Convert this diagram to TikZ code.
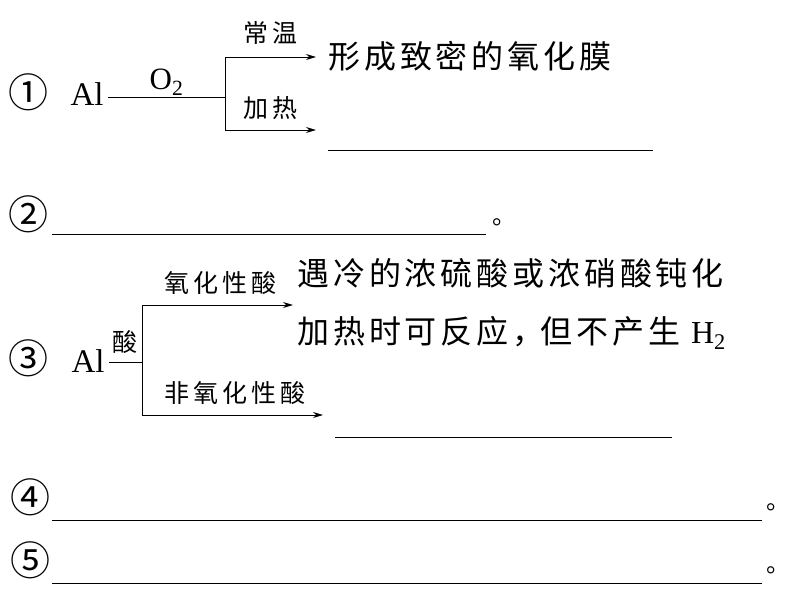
\documentclass[tikz,border=0pt]{standalone}
\usepackage{fontspec}
\setmainfont{Liberation Serif}
\newfontfamily\cjk[LetterSpace=12]{Noto Sans CJK SC}
\newfontfamily\cjksmall[LetterSpace=16]{Noto Sans CJK SC}
\usetikzlibrary{arrows.meta}
\tikzset{
  num/.style={
    inner sep=0pt,
    font=\cjk\fontsize{40}{44}\selectfont
  },
  elem/.style={
    inner sep=0pt, anchor=base west,
    font=\fontsize{33}{36}\selectfont
  },
  cond/.style={
    inner sep=0pt,
    font=\cjksmall\fontsize{25}{28}\selectfont
  },
  result/.style={
    inner sep=0pt, anchor=west,
    font=\cjk\fontsize{32}{36}\selectfont
  },
  stop/.style={
    inner sep=0pt, anchor=west,
    font=\cjk\fontsize{24}{28}\selectfont
  },
  rxn arrow/.style={
    -{Stealth[length=10pt,width=6pt]}, line width=1pt
  },
  blank/.style={line width=1pt},
}
\begin{document}
\begin{tikzpicture}[x=1pt, y=-1pt, line width=1pt]
  \useasboundingbox (0,0) rectangle (790,592);

  % Row 1: Al + O2
  \node[num] (n1) at (29,92) {①};
  \node[elem] (al1) at (70,105) {Al};
  \coordinate (fork1) at (225,97);
  \coordinate (warm end) at (316,57);
  \coordinate (heat end) at (316,130);
  \draw ([xshift=4pt]al1.east |- fork1) -- (fork1)
    node[midway, above=1pt, elem, anchor=south, font=\fontsize{31}{36}\selectfont] (o2) {O\textsubscript{2}};
  \draw[rxn arrow] (fork1) |- (warm end);
  \draw[rxn arrow] (fork1) |- (heat end);
  \node[cond] (warm) at (270,33) {常温};
  \node[cond] (heat) at (270,108) {加热};
  \node[result] (film) at (328,56) {形成致密的氧化膜};
  \draw[blank] (328,150) -- (653,150);

  % Row 2
  \node[num] (n2) at (29,214) {②};
  \draw[blank] (52,234) -- (486,234);
  \node[stop] (s2) at (492,222) {。};

  % Row 3: Al + acid
  \node[num] (n3) at (29,358) {③};
  \node[elem] (al3) at (71,372) {Al};
  \coordinate (fork3) at (142,362);
  \coordinate (ox end) at (293,305);
  \coordinate (nonox end) at (323,415);
  \draw ([xshift=4pt]al3.east |- fork3) -- (fork3);
  \node[cond] (acid) at (125,342) {酸};
  \draw[rxn arrow] (fork3) |- (ox end);
  \draw[rxn arrow] (fork3) |- (nonox end);
  \node[cond] (ox) at (220,283) {氧化性酸};
  \node[cond] (nonox) at (235,393) {非氧化性酸};
  \node[result] (passiv) at (297,273) {遇冷的浓硫酸或浓硝酸钝化};
  \node[result] (noh2) at (297,333) {加热时可反应，\kern-4pt 但不产生 {\fontfamily{\rmdefault}\selectfont H\textsubscript{2}}};
  \draw[blank] (335,437) -- (672,437);

  % Rows 4 and 5
  \node[num] (n4) at (30,497) {④};
  \draw[blank] (52,520) -- (762,520);
  \node[stop] (s4) at (766,507) {。};
  \node[num] (n5) at (30,560) {⑤};
  \draw[blank] (52,583) -- (762,583);
  \node[stop] (s5) at (766,570) {。};

\end{tikzpicture}
\end{document}
